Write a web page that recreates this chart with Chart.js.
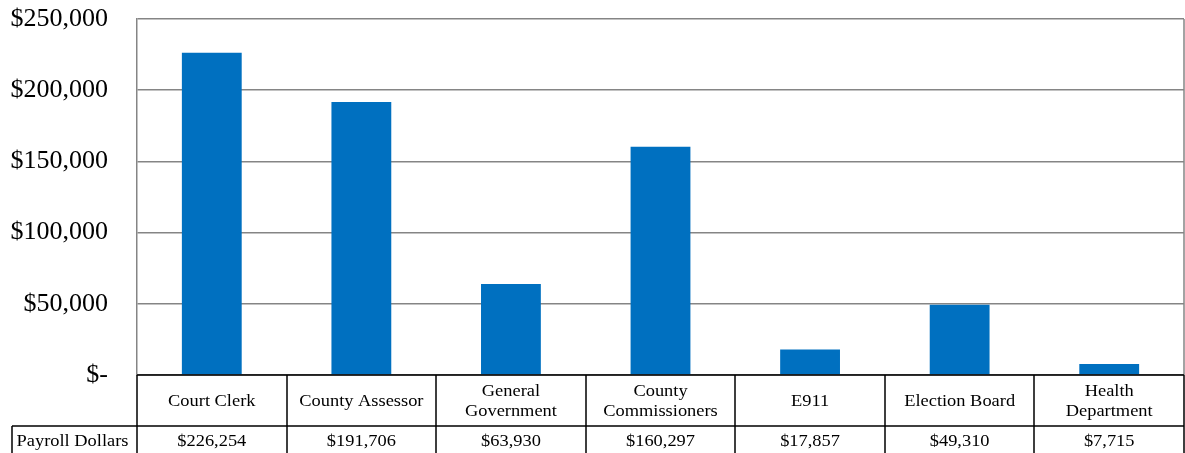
<!DOCTYPE html>
<html>
<head>
<meta charset="utf-8">
<script src="https://cdn.jsdelivr.net/npm/chart.js@4"></script>
<style>
  body { margin: 0; background: #fff; }
</style>
</head>
<body>
<canvas id="payroll" width="1185" height="453"></canvas>
<script>
const departments = [
  "Court Clerk",
  "County Assessor",
  ["General", "Government"],
  ["County", "Commissioners"],
  "E911",
  "Election Board",
  ["Health", "Department"],
];
const payrollDollars = [226254, 191706, 63930, 160297, 17857, 49310, 7715];
const rowLabel = "Payroll Dollars";
const yTicks = [0, 50000, 100000, 150000, 200000, 250000];

const serif = '"Liberation Serif", "Times New Roman", serif';
const money = (v) => (v === 0 ? "$-" : "$" + v.toLocaleString("en-US"));

// stretched text, the picture is a bit wide
function wideText(ctx, text, x, y) {
  ctx.save();
  ctx.translate(x, y);
  ctx.scale(1.15, 1);
  ctx.fillText(text, 0, 0);
  ctx.restore();
}

const dataTable = {
  id: "dataTable",
  afterDraw(chart) {
    const { ctx, chartArea } = chart;
    const x = chart.scales.x;
    const top = chartArea.bottom;
    const mid = top + 51;
    const bottom = chart.height;
    const left = 12;
    const n = departments.length;

    ctx.save();
    // right border of the plot
    ctx.strokeStyle = "#858585";
    ctx.lineWidth = 1.5;
    ctx.beginPath();
    ctx.moveTo(chartArea.right, chartArea.top);
    ctx.lineTo(chartArea.right, top);
    ctx.stroke();

    ctx.strokeStyle = "#000";
    ctx.lineWidth = 1.5;
    ctx.beginPath();
    ctx.moveTo(chartArea.left, top);
    ctx.lineTo(chartArea.right, top);
    ctx.moveTo(left, mid);
    ctx.lineTo(chartArea.right, mid);
    ctx.moveTo(left, mid);
    ctx.lineTo(left, bottom);
    for (let i = 0; i <= n; i++) {
      const px = Math.round(x.getPixelForValue(i - 0.5));
      ctx.moveTo(px, top);
      ctx.lineTo(px, bottom);
    }
    ctx.stroke();

    ctx.fillStyle = "#000";
    ctx.font = "16px " + serif;
    ctx.textAlign = "center";
    ctx.textBaseline = "middle";
    departments.forEach((label, i) => {
      const cx = x.getPixelForValue(i);
      const lines = Array.isArray(label) ? label : [label];
      const cy = (top + mid) / 2 + 1;
      lines.forEach((line, j) => {
        wideText(ctx, line, cx, cy + (j - (lines.length - 1) / 2) * 20);
      });
      wideText(ctx, money(payrollDollars[i]), cx, mid + 16);
    });
    wideText(ctx, rowLabel, (left + chartArea.left) / 2 - 2, mid + 16);
    ctx.restore();
  },
};

new Chart(document.getElementById("payroll"), {
  type: "bar",
  data: {
    labels: departments,
    datasets: [
      {
        label: rowLabel,
        data: payrollDollars,
        backgroundColor: "#0070C0",
        barPercentage: 0.4,
        categoryPercentage: 1,
      },
    ],
  },
  options: {
    responsive: false,
    animation: false,
    layout: {
      padding: { top: 19, right: 1, bottom: 78, left: 0 },
    },
    plugins: {
      legend: { display: false },
      tooltip: { enabled: false },
    },
    scales: {
      x: {
        display: false,
      },
      y: {
        min: 0,
        max: 250000,
        afterFit(scale) {
          scale.width = 137;
          // tick padding should not push the plot down
          scale.paddingTop = 0;
          scale.paddingBottom = 0;
        },
        afterBuildTicks(scale) {
          scale.ticks = yTicks.map((v) => ({ value: v }));
        },
        grid: {
          color: "#858585",
          lineWidth: 1.5,
          drawTicks: false,
        },
        border: {
          display: true,
          color: "#858585",
          width: 1.5,
        },
        ticks: {
          padding: 29,
          color: "#000",
          font: { family: serif, size: 26 },
          callback: (v) => money(v),
        },
      },
    },
  },
  plugins: [dataTable],
});
</script>
</body>
</html>
